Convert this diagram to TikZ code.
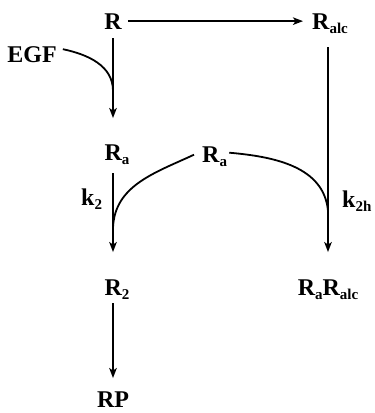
\documentclass[tikz,border=0pt]{standalone}
\usepackage{fontspec}
\setmainfont{Liberation Serif}
\usetikzlibrary{arrows.meta}
\newcommand{\sbs}[1]{\raisebox{-0.45ex}{\fontsize{15}{15}\selectfont #1}}
\begin{document}
\begin{tikzpicture}[x=1pt,y=-1pt,
  lab/.style={inner sep=2pt,font=\fontsize{24}{24}\selectfont\bfseries},
  arr/.style={line width=1.8pt,-{Stealth[length=10pt,width=7.5pt,inset=2.5pt]}},
  ln/.style={line width=1.8pt}]
\useasboundingbox (0,0) rectangle (375,413);
\node[lab,anchor=base] (R) at (113,29) {R};
\node[lab,anchor=base west] (Ralc) at (310,29) {R\sbs{alc}};
\node[lab,anchor=base] (EGF) at (32,62) {EGF};
\node[lab,anchor=base west] (Ra1) at (102.3,160) {R\sbs{a}};
\node[lab,anchor=base west] (Ra2) at (200,162) {R\sbs{a}};
\node[lab,anchor=base west] (k2) at (79,205) {k\sbs{2}};
\node[lab,anchor=base west] (k2h) at (340,207) {k\sbs{2h}};
\node[lab,anchor=base west] (R2) at (102.3,295) {R\sbs{2}};
\node[lab,anchor=base] (RaRalc) at (328,295) {R\sbs{a}R\sbs{alc}};
\node[lab,anchor=base] (RP) at (113,407) {RP};
% connectors
\draw[arr,shorten <=4pt,shorten >=7pt] (R.east) -- (R.east -| Ralc.west);
\draw[arr,shorten <=7pt,shorten >=24pt] (R.south) -- (R.south |- Ra1.north);
\draw[arr,shorten <=6pt,shorten >=25pt] (R.south |- Ra1.south) -- (R.south |- R2.north);
\draw[arr,shorten <=1pt,shorten >=11pt] (R.south |- R2.south) -- (R.south |- RP.north);
\draw[arr,shorten <=11pt,shorten >=25pt] (RaRalc.north |- Ralc.south) -- (RaRalc.north);
\coordinate (j1) at (113,91);
\coordinate (j2) at (113,228);
\coordinate (j3) at (328,211);
\draw[ln] (EGF.east) ++(4,-5) to[out=-12,in=90] (j1);
\draw[ln] (Ra2.west) ++(-6,-2) to[out=205,in=88] (j2);
\draw[ln] (Ra2.east) ++(0,-4) to[out=-5,in=95] (j3);
\end{tikzpicture}
\end{document}
